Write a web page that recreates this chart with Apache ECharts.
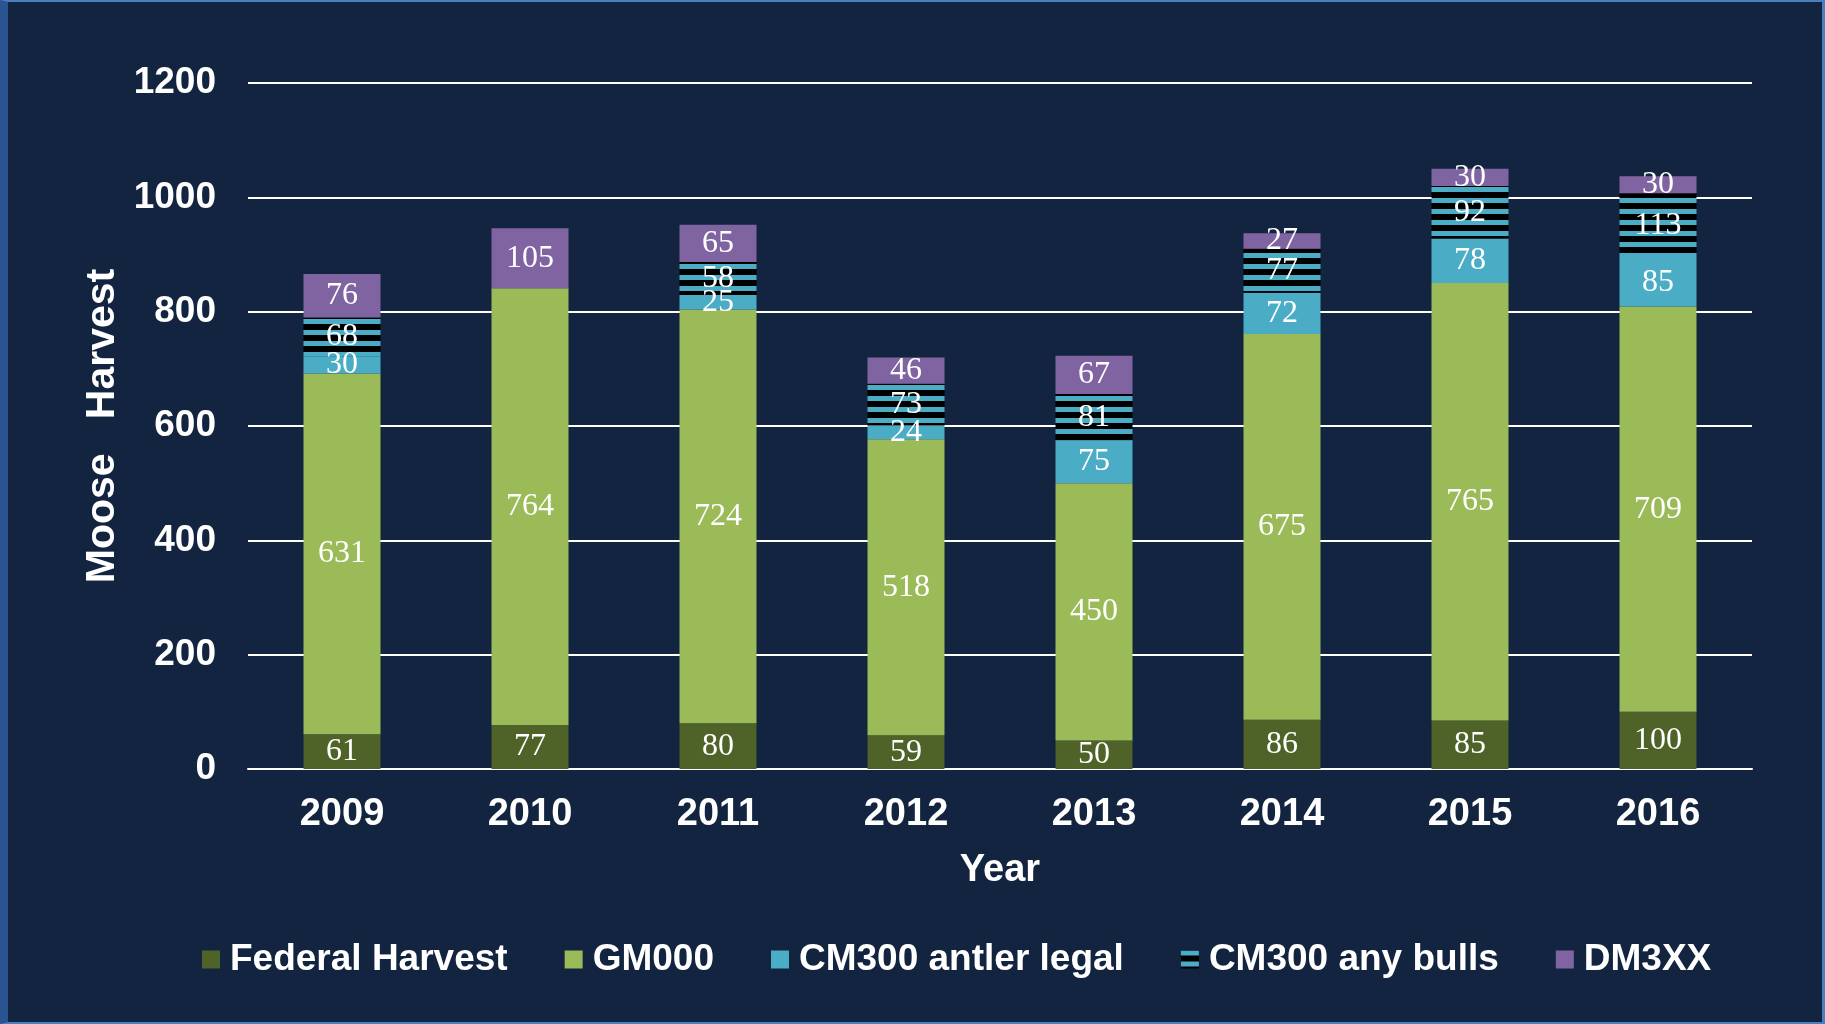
<!DOCTYPE html>
<html><head><meta charset="utf-8">
<script src="https://cdn.jsdelivr.net/npm/echarts@6/dist/echarts.min.js"></script>
<style>
html,body{margin:0;padding:0;width:1825px;height:1024px;overflow:hidden;background:#2a5390;}
#frame{position:absolute;left:0;top:0;width:1825px;height:1024px;box-sizing:border-box;border-left:8px solid #2a5390;border-top:2px solid #4a7ebf;border-right:3px solid #4a7ebf;border-bottom:2px solid #4a7ebf;background:#12243f;}
#chart{position:absolute;left:0;top:0;width:1825px;height:1024px;}
</style></head>
<body><div id="frame"></div><div id="chart"></div>
<script>
const years = ['2009','2010','2011','2012','2013','2014','2015','2016'];
const federalHarvest = [61, 77, 80, 59, 50, 86, 85, 100];
const gm000 = [631, 764, 724, 518, 450, 675, 765, 709];
const cm300AntlerLegal = [30, 0, 25, 24, 75, 72, 78, 85];
const cm300AnyBulls = [68, 0, 58, 73, 81, 77, 92, 113];
const dm3xx = [76, 105, 65, 46, 67, 27, 30, 30];
const yTicks = [0, 200, 400, 600, 800, 1000, 1200];

const pc = document.createElement('canvas');
pc.width = 8; pc.height = 11;
const ctx = pc.getContext('2d');
ctx.fillStyle = '#4bacc6'; ctx.fillRect(0,0,8,11);
ctx.fillStyle = '#000000'; ctx.fillRect(0,5,8,6);
const stripe = {image: pc, repeat: 'repeat'};

const sans = '"Liberation Sans", Arial, sans-serif';
const lbl = {show:true, position:'inside', color:'#ffffff', fontFamily:'"Liberation Serif", serif', fontSize:32,
  formatter: p => p.value ? String(p.value) : ''};
function s(name, data, color) {
  return {name, type:'bar', stack:'t', data, barWidth:77, itemStyle:{color}, label:lbl, emphasis:{disabled:true}};
}
const chart = echarts.init(document.getElementById('chart'), null, {renderer:'canvas'});
chart.setOption({
  backgroundColor:'transparent',
  animation:false,
  grid:{left:248, right:73, top:83, bottom:255},
  legend:{left:197, top:936, itemWidth:18, itemHeight:18, itemGap:57, icon:'rect',
    textStyle:{color:'#ffffff', fontFamily:sans, fontWeight:'bold', fontSize:37, padding:[0,0,0,5]},
    data:['Federal Harvest','GM000','CM300 antler legal','CM300 any bulls','DM3XX']},
  xAxis:{type:'category', data:years, name:'Year', nameLocation:'middle', nameGap:83,
    nameTextStyle:{color:'#fff', fontFamily:sans, fontWeight:'bold', fontSize:38},
    axisLine:{lineStyle:{color:'#ffffff', width:2}}, axisTick:{show:false},
    axisLabel:{color:'#fff', fontFamily:sans, fontWeight:'bold', fontSize:38, margin:27}},
  yAxis:{type:'value', min:yTicks[0], max:yTicks[yTicks.length-1], interval:200, name:'Moose   Harvest', nameLocation:'middle', nameGap:124,
    nameTextStyle:{color:'#fff', fontFamily:sans, fontWeight:'bold', fontSize:41},
    axisLine:{show:false}, axisTick:{show:false},
    splitLine:{lineStyle:{color:'#ffffff', width:2}},
    axisLabel:{color:'#fff', fontFamily:sans, fontWeight:'bold', fontSize:37, margin:32, formatter: v => String(v)}},
  series:[
    s('Federal Harvest', federalHarvest, '#4f6228'),
    s('GM000', gm000, '#9bbb59'),
    s('CM300 antler legal', cm300AntlerLegal, '#4bacc6'),
    s('CM300 any bulls', cm300AnyBulls, stripe),
    s('DM3XX', dm3xx, '#8064a2')
  ]
});
</script></body></html>
